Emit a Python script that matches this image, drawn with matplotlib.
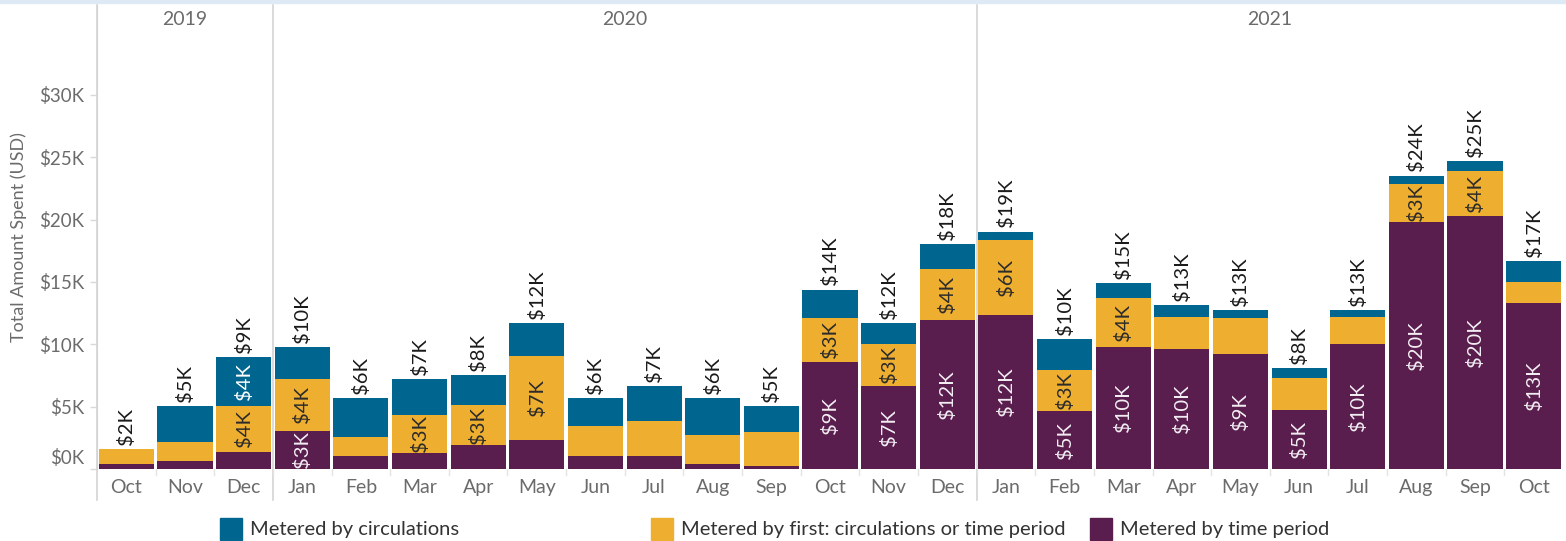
import matplotlib.pyplot as plt
from matplotlib.patches import Rectangle
import matplotlib.transforms as mtrans
import numpy as np

plt.rcParams['font.family'] = ['Lato', 'DejaVu Sans']

# Monthly spend (thousands USD), Oct 2019 .. Oct 2021
months = ['Oct', 'Nov', 'Dec',
          'Jan', 'Feb', 'Mar', 'Apr', 'May', 'Jun', 'Jul', 'Aug', 'Sep', 'Oct', 'Nov', 'Dec',
          'Jan', 'Feb', 'Mar', 'Apr', 'May', 'Jun', 'Jul', 'Aug', 'Sep', 'Oct']
years = ['2019', '2020', '2021']
year_spans = [(0, 2), (3, 14), (15, 24)]

time_period = [0.38, 0.62, 1.39,
               3.07, 1.02, 1.28, 1.92, 2.30, 1.02, 1.02, 0.38, 0.24, 8.60, 6.68, 11.92,
               12.33, 4.63, 9.76, 9.62, 9.25, 4.76, 10.02, 19.78, 20.29, 13.34]
first_of = [1.25, 1.55, 3.64,
            4.12, 1.57, 3.07, 3.18, 6.79, 2.45, 2.83, 2.32, 2.70, 3.48, 3.34, 4.14,
            6.03, 3.33, 3.98, 2.59, 2.83, 2.56, 2.19, 3.10, 3.61, 1.68]
circulations = [0.0, 2.86, 3.95,
                2.57, 3.08, 2.84, 2.46, 2.59, 2.20, 2.83, 2.97, 2.09, 2.30, 1.66, 1.98,
                0.67, 2.44, 1.15, 0.92, 0.65, 0.75, 0.52, 0.64, 0.77, 1.68]

# which segments carry an inside label
time_labeled = [3, 12, 13, 14, 15, 16, 17, 18, 19, 20, 21, 22, 23, 24]
first_labeled = [2, 3, 5, 6, 7, 12, 13, 14, 15, 16, 17, 22, 23]
circ_labeled = [2]

c_blue = '#00668f'
c_orange = '#eeae30'
c_purple = '#5a1e4e'
grey = '#6b6b6b'
lab_fs = 14.5

fig = plt.figure(figsize=(15.66, 5.41), dpi=100)
ax = fig.add_axes([97 / 1566, 72 / 541, 1466 / 1566, 464 / 541])

x = np.arange(len(months))
tp = np.array(time_period)
fo = np.array(first_of)
ci = np.array(circulations)
w = 0.94
ax.bar(x, tp, w, color=c_purple, linewidth=0)
ax.bar(x, fo, w, bottom=tp, color=c_orange, linewidth=0)
ax.bar(x, ci, w, bottom=tp + fo, color=c_blue, linewidth=0)

def fmt(v):
    return f'${int(round(v))}K'

for i in time_labeled:
    ax.text(i, tp[i] / 2, fmt(tp[i]), rotation=90, ha='center', va='center',
            color='#f2eef2', fontsize=lab_fs)
for i in first_labeled:
    ax.text(i, tp[i] + fo[i] / 2, fmt(fo[i]), rotation=90, ha='center', va='center',
            color='#2b2b2b', fontsize=lab_fs)
for i in circ_labeled:
    ax.text(i, tp[i] + fo[i] + ci[i] / 2, fmt(ci[i]), rotation=90, ha='center', va='center',
            color='white', fontsize=lab_fs)

totals = tp + fo + ci
for i, t in enumerate(totals):
    ax.annotate(fmt(t), (i, t), xytext=(0, 3), textcoords='offset points', rotation=90,
                ha='center', va='bottom', color='#1a1a1a', fontsize=lab_fs)

ax.set_xlim(-0.5, len(months) - 0.5)
ax.set_ylim(0, 37.2)
ax.set_yticks([0, 5, 10, 15, 20, 25, 30])
ax.set_yticklabels([f'${v}K' for v in [0, 5, 10, 15, 20, 25, 30]])
ax.tick_params(axis='y', colors='#d9d9d9', labelcolor=grey, labelsize=13.5, length=5, width=1, pad=4)
# lift the $0K label like the source does
lab0 = ax.get_yticklabels()[0]
lab0.set_transform(lab0.get_transform() + mtrans.ScaledTranslation(0, 13 / 100, fig.dpi_scale_trans))

ax.set_xticks(x)
ax.set_xticklabels(months)
ax.tick_params(axis='x', length=0, labelcolor=grey, labelsize=14, pad=7)

for s in ['top', 'right', 'bottom']:
    ax.spines[s].set_visible(False)
ax.spines['left'].set_color('#d4d4d4')

ax.set_ylabel('Total Amount Spent (USD)', color=grey, fontsize=13)
ax.yaxis.set_label_coords(-0.0475, 0.5)

# year separators and month ticks
trans = ax.get_xaxis_transform()
low = -31 / 464
ax.plot([-0.5, -0.5], [low, 1], color='#d4d4d4', lw=1.2, transform=trans, clip_on=False)
for a, b in year_spans[1:]:
    ax.plot([a - 0.5, a - 0.5], [low, 1], color='#d4d4d4', lw=1.2, transform=trans, clip_on=False)
for i in range(1, len(months)):
    ax.plot([i - 0.5, i - 0.5], [0, -6 / 464], color='#e4e4e4', lw=1, transform=trans, clip_on=False)
ax.plot([-0.5, len(months) - 0.5], [0, 0], color='#ececec', lw=0.8, transform=trans, zorder=0)

for yr, (a, b) in zip(years, year_spans):
    ax.text((a + b) / 2, 36.0, yr, ha='center', va='center', color=grey, fontsize=14)

# top strip
fig.patches.append(Rectangle((0, 1 - 3 / 541), 1, 3 / 541, transform=fig.transFigure,
                             color='#dde9f4', zorder=0))

# legend
legend_items = [('Metered by circulations', c_blue, 220),
                ('Metered by first: circulations or time period', c_orange, 651),
                ('Metered by time period', c_purple, 1090)]
for name, col, px in legend_items:
    fig.patches.append(Rectangle((px / 1566, 1 - 540 / 541), 22 / 1566, 22 / 541,
                                 transform=fig.transFigure, color=col))
    fig.text((px + 30) / 1566, 1 - 529 / 541, name, ha='left', va='center',
             color='#333333', fontsize=14.5)

fig.savefig('out.png', dpi=100)
